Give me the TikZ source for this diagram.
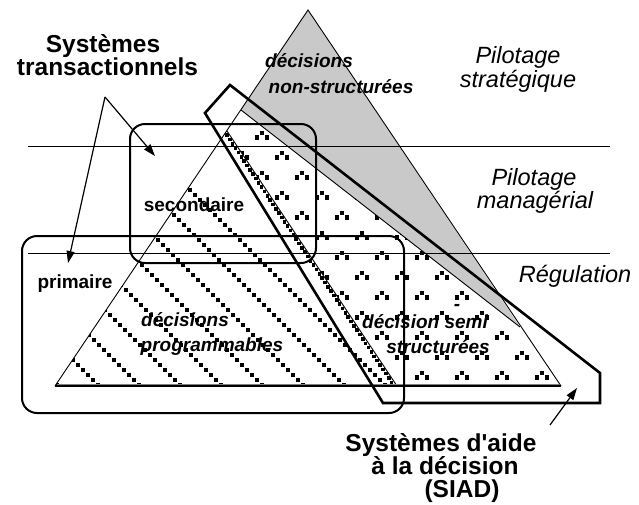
\documentclass[tikz,border=0pt]{standalone}
\usepackage{fontspec}
\setmainfont{Liberation Sans}
\newfontfamily\lsans{Liberation Sans}
\usetikzlibrary{arrows.meta,calc}
\tikzset{
  thinline/.style={line width=0.9pt},
  boxline/.style={line width=2pt, rounded corners=15pt},
  siadline/.style={line width=2.6pt, line join=miter},
  lbl/.style={font=\lsans\fontsize{19}{19}\selectfont\bfseries, inner sep=0pt, anchor=base},
  lbli/.style={font=\lsans\fontsize{19}{19}\selectfont\bfseries\itshape, inner sep=0pt, anchor=base},
  lvl/.style={font=\lsans\fontsize{23.5}{23}\selectfont\itshape, inner sep=0pt, anchor=base},
  ttl/.style={font=\lsans\fontsize{24.5}{23}\selectfont\bfseries, inner sep=0pt, anchor=base},
  arr/.style={line width=1.2pt, -{Triangle[length=12pt,width=8pt]}},
}
\begin{document}
\begin{tikzpicture}[x=1pt,y=-1pt]
\useasboundingbox (0,0) rectangle (639,504);
% key points
\coordinate (apex) at (308,10);
\coordinate (bl) at (55,386);
\coordinate (br) at (561,386);
\coordinate (L) at (241,110);
\coordinate (R) at (520,327);
\coordinate (P) at (227,131);
\coordinate (Q) at (397,386);
% grey region (decisions non-structurees)
\fill[gray!42] (apex) -- (L) -- (R) -- cycle;
% hatched region (decisions programmables)
\begin{scope}
  \clip (bl) -- (P) -- (Q) -- cycle;
  \foreach \k in {0,...,8} {
    \foreach \j in {0,...,52} {
      \fill ({57+41*\k-5*\j-1.9},{385-5*\j-1.9}) rectangle ++(3.8,3.8);
    }
  }
  \foreach \t in {0,0.017,...,1} {
    \fill ($(P)!\t!(Q)+(-4.8,-1.9)$) rectangle ++(3.6,3.6);
  }
\end{scope}
% dotted region (decisions semi-structurees)
\begin{scope}
  \clip (L) -- (R) -- (br) -- (Q) -- (P) -- cycle;
  \foreach \yy in {153,193,233,273,313,353} {
    \foreach \xx in {242,282,...,562} {
      \fill (\xx-2.4,\yy-2.2) rectangle ++(4.8,4.4);
      \fill (\xx-7.4,\yy+2.2) rectangle ++(4.8,4.4);
      \fill (\xx+2.6,\yy+2.2) rectangle ++(4.8,4.4);
    }
  }
  \foreach \yy in {133,173,213,253,293,333,373} {
    \foreach \xx in {222,262,...,582} {
      \fill (\xx-2.4,\yy-2.2) rectangle ++(4.8,4.4);
      \fill (\xx-7.4,\yy+2.2) rectangle ++(4.8,4.4);
      \fill (\xx+2.6,\yy+2.2) rectangle ++(4.8,4.4);
    }
  }
\end{scope}
% pyramid outline and internal boundaries
\draw[thinline] (bl) -- (apex) -- (br);
\draw[thinline] (P) -- (Q);
\draw[thinline] (L) -- (R);
\draw[gray, line width=0.8pt] (57,384.3) -- (559,384.3);
\draw[line width=1.4pt] (bl) -- (br);
% level separators
\coordinate (h1a) at (28,146);
\coordinate (h1b) at (610,146);
\coordinate (h2a) at (28,253);
\coordinate (h2b) at (610,253);
\draw[thinline] (h1a) -- (h1b);
\draw[thinline] (h2a) -- (h2b);
% transactional systems boxes
\draw[boxline] (22,236) rectangle (404,413);
\draw[boxline] (130,124) rectangle (316,263);
% SIAD outline
\draw[siadline] (230,85) -- (600,373) -- (600,403) -- (383,403) -- (205,113) -- cycle;
% texts
\node[ttl] (ts1) at (103,52) {Systèmes};
\node[ttl] (ts2) at (107.5,75) {transactionnels};
\node[ttl] (sd1) at (441,451) {Systèmes d'aide};
\node[ttl] (sd2) at (445,474) {à la décision};
\node[ttl] (sd3) at (462,497) {(SIAD)};
\node[lvl] (pv1) at (518,63) {Pilotage};
\node[lvl] (pv2) at (518,87) {stratégique};
\node[lvl] (pv3) at (534,185) {Pilotage};
\node[lvl] (pv4) at (535,208) {managérial};
\node[lvl] (pv5) at (575,282) {Régulation};
\node[lbli] (dn1) at (309,67) {décisions};
\node[lbli] (dn2) at (341,93) {non-structurées};
\node[lbl] (sec) at (194,211) {secondaire};
\node[lbl] (pri) at (75,288) {primaire};
\node[lbli] (dp1) at (185,326) {décisions};
\node[lbli] (dp2) at (212,351) {programmables};
\node[lbli] (ds1) at (425,328) {décision semi};
\node[lbli] (dsh) at (457,310) {-};
\node[lbli] (ds2) at (438,353) {structurées};
% arrows
\coordinate (tsrc) at (105,97);
\coordinate (tsec) at (155,156);
\coordinate (tpri) at (68,263);
\draw[arr] (tsrc) -- (tsec);
\draw[arr] (tsrc) -- (tpri);
\coordinate (ssrc) at (550,425);
\coordinate (stip) at (577,388);
\draw[arr] (ssrc) -- (stip);
\end{tikzpicture}
\end{document}
